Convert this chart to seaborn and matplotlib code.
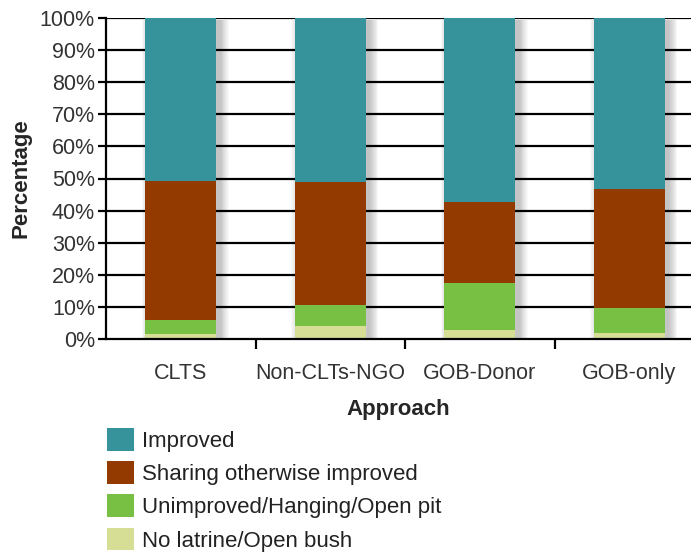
import numpy as np
import pandas as pd
import matplotlib
matplotlib.use("Agg")
import matplotlib.pyplot as plt
from matplotlib.patches import Patch
import seaborn as sns

# Data (percent of households)
approaches = ["CLTS", "Non-CLTs-NGO", "GOB-Donor", "GOB-only"]
no_latrine = [1.6, 4.1, 2.8, 1.9]
unimproved = [4.3, 6.5, 14.6, 7.8]
sharing = [43.3, 38.3, 25.4, 37.0]
improved = [50.8, 51.1, 57.2, 53.3]

series = ["Improved", "Sharing otherwise improved",
          "Unimproved/Hanging/Open pit", "No latrine/Open bush"]
colors = ["#36939c", "#933a00", "#78c043", "#d6dd94"]

df = pd.DataFrame({
    "Approach": approaches,
    "No latrine/Open bush": no_latrine,
    "Unimproved/Hanging/Open pit": unimproved,
    "Sharing otherwise improved": sharing,
    "Improved": improved,
})

sns.set_style("white")
plt.rcParams["font.family"] = ["Liberation Sans", "DejaVu Sans"]

fig = plt.figure(figsize=(6.91, 5.52), dpi=100)
ax = fig.add_axes([106 / 691, 1 - 339 / 552, 1 - 106 / 691, (339 - 18) / 552])

# horizontal black gridlines behind bars
for v in range(10, 101, 10):
    ax.axhline(v, color="black", lw=1.6, zorder=0)

bar_w = 0.475
xpos = np.arange(len(approaches))

# soft drop shadow behind each bar
for i in range(10):
    ax.bar(xpos + 0.03, 100.5, width=bar_w + 0.012 * i, bottom=-1.2,
           color="black", alpha=0.025, lw=0, zorder=1)

# stacked bars: draw cumulative totals from the top layer down
order = ["No latrine/Open bush", "Unimproved/Hanging/Open pit",
         "Sharing otherwise improved", "Improved"]
cum = df[order].cumsum(axis=1)
for name in reversed(order):
    c = colors[series.index(name)]
    sns.barplot(x="Approach", y=name, data=cum.assign(Approach=df["Approach"]),
                color=c, width=bar_w, saturation=1, ax=ax, zorder=2,
                edgecolor="none", linewidth=0)

ax.set_ylim(0, 100)
ax.set_xlim(-0.5, -0.5 + (691 - 106) / 149.5)
ax.set_yticks(range(0, 101, 10))
ax.set_yticklabels([f"{v}%" for v in range(0, 101, 10)], fontsize=15.5, color="#333333")
ax.tick_params(axis="y", length=6, width=1.6, color="black", pad=2, left=True)
ax.set_xticks(xpos)
ax.set_xticklabels(approaches, fontsize=15.5, color="#333333")
ax.tick_params(axis="x", length=0, pad=17)
ax.set_xticks(xpos[:-1] + 0.5, minor=True)
ax.tick_params(axis="x", which="minor", length=7, width=1.6, color="black", bottom=True)

for s in ["top", "right"]:
    ax.spines[s].set_visible(False)
for s in ["left", "bottom"]:
    ax.spines[s].set_color("black")
    ax.spines[s].set_linewidth(1.6)

ax.set_xlabel("Approach", fontsize=16, fontweight="bold", labelpad=11)
ax.set_ylabel("Percentage", fontsize=16, fontweight="bold", labelpad=6)

handles = [Patch(facecolor=c, edgecolor="none") for c in colors]
fig.legend(handles, series, loc="upper left",
           bbox_to_anchor=(107 / 691, 1 - 428 / 552), frameon=False,
           fontsize=16, handlelength=1.2, handleheight=1.2,
           handletextpad=0.38, labelspacing=0.42, borderpad=0, borderaxespad=0,
           labelcolor="#222222")

fig.savefig("out.png", dpi=100)
